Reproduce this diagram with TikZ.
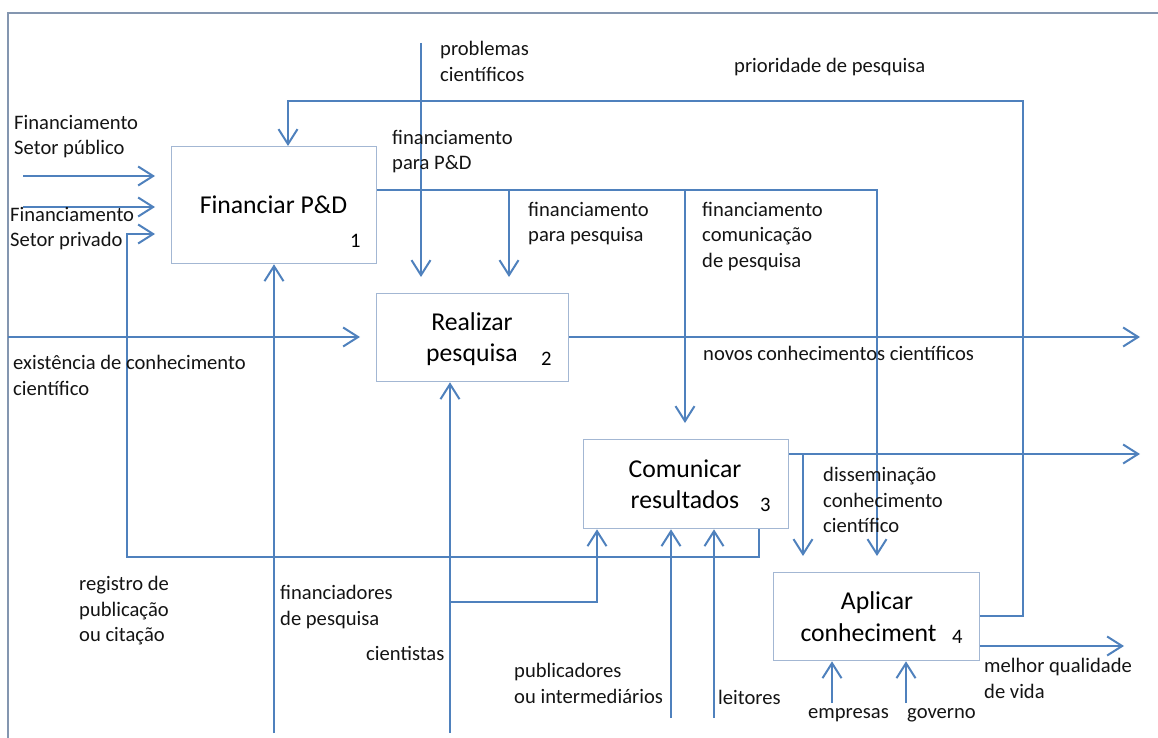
\documentclass[tikz,border=0pt]{standalone}
\usepackage{fontspec}
\setmainfont{Carlito}
\usetikzlibrary{arrows.meta}
\definecolor{flow}{HTML}{4F81BD}
\definecolor{boxline}{HTML}{A3B7D3}
\definecolor{frameline}{HTML}{8496B0}
\begin{document}
\begin{tikzpicture}[x=1pt,y=-1pt,
  flowline/.style={draw=flow, line width=2pt, -{Straight Barb[length=15pt,width=19pt]}},
  gap/.style={shorten >=16pt},
  stage/.style={draw=boxline, line width=1.3pt, fill=white, inner sep=0pt, anchor=north west},
  lbl/.style={font=\fontsize{20.6}{25.5}\selectfont, align=left, anchor=north west,
    inner sep=0pt, text=black!92, execute at begin node={\rule{0pt}{16pt}}},
  big/.style={font=\fontsize{25.7}{31}\selectfont, inner sep=0pt, anchor=base, text=black},
  num/.style={font=\fontsize{20.6}{24}\selectfont, inner sep=0pt, anchor=base west, text=black}]
\useasboundingbox (0,0) rectangle (1158,738);

% outer frame
\draw[frameline, line width=1.2pt] (8,738) -- (8,13) -- (1158,13);

% activity boxes
\node[stage, minimum width=205pt, minimum height=117pt] (b1) at (171,146) {};
\node[stage, minimum width=192pt, minimum height=88pt] (b2) at (376,293) {};
\node[stage, minimum width=205pt, minimum height=89pt] (b3) at (583,439) {};
\node[stage, minimum width=206pt, minimum height=88pt] (b4) at (773,572) {};

% box titles and numbers
\node[big] (t1) at (273.5,213) {Financiar P\&D};
\node[num] (n1) at (350,247) {1};
\node[big] (t2a) at (472,330) {Realizar};
\node[big] (t2b) at (472,361) {pesquisa};
\node[num] (n2) at (541,365) {2};
\node[big] (t3a) at (685,477) {Comunicar};
\node[big] (t3b) at (685,508) {resultados};
\node[num] (n3) at (760,511) {3};
\node[big] (t4a) at (877,609) {Aplicar};
\node[big] (t4b) at (868.5,641) {conheciment};
\node[num] (n4) at (952,643) {4};

% free ends of the connectors
\coordinate (pubsrc) at (23,176);
\coordinate (privsrc) at (23,207);
\coordinate (probsrc) at (421,43);
\coordinate (exsrc) at (8,337);
\coordinate (novosend) at (1140,337);
\coordinate (dissend) at (1140,454);
\coordinate (finsrc) at (274,733);
\coordinate (cientsrc) at (450,733);
\coordinate (pubisrc) at (671,718);
\coordinate (leitsrc) at (714,718);
\coordinate (empsrc) at (832,703);
\coordinate (govsrc) at (906,703);
\coordinate (vidaend) at (1124,646);
\coordinate (jfin) at (509,190);
\coordinate (jcom) at (685,190);
\coordinate (jdis) at (803,454);
\coordinate (jcie) at (450,602);

% inputs of box 1
\draw[flowline, gap] (pubsrc) -- (pubsrc -| b1.west);
\draw[flowline, gap] (privsrc) -- (privsrc -| b1.west);
\draw[flowline, gap] (b3.south -| 759,0) |- (127,557) |- (b1.west |- 0,234);
\draw[flowline] (b4.east |- 0,616) -| (1023,101) -| (b1.north -| 288,0);
\draw[flowline] (finsrc) -- (finsrc |- b1.south);

% funding flows
\draw[flowline, gap] (b1.east |- 0,190) -| (b4.north -| 877,0);
\draw[flowline, gap] (jfin) -- (jfin |- b2.north);
\draw[flowline, gap] (jcom) -- (jcom |- b3.north);

% research
\draw[flowline, gap] (probsrc) -- (probsrc |- b2.north);
\draw[flowline, gap] (exsrc) -- (exsrc -| b2.west);
\draw[flowline] (b2.east |- novosend) -- (novosend);
\draw[flowline] (cientsrc) -- (cientsrc |- b2.south);
\draw[flowline] (jcie) -| (b3.south -| 597,0);

% communication
\draw[flowline] (b3.east |- dissend) -- (dissend);
\draw[flowline] (jdis) -- (803,556);
\draw[flowline] (pubisrc) -- (pubisrc |- b3.south);
\draw[flowline] (leitsrc) -- (leitsrc |- b3.south);

% application
\draw[flowline] (empsrc) -- (empsrc |- b4.south);
\draw[flowline] (govsrc) -- (govsrc |- b4.south);
\draw[flowline] (b4.east |- vidaend) -- (vidaend);

% labels
\node[lbl] (l1) at (440,41) {problemas\\científicos};
\node[lbl] (l2) at (734,56) {prioridade de pesquisa};
\node[lbl] (l3) at (14,115) {Financiamento\\Setor público};
\node[lbl] (l4) at (392,130) {financiamento\\para P\&D};
\node[lbl] (l5) at (10,207) {Financiamento\\Setor privado};
\node[lbl] (l6) at (528,202) {financiamento\\para pesquisa};
\node[lbl] (l7) at (702,202) {financiamento\\comunicação\\de pesquisa};
\node[lbl] (l8) at (13,355) {existência de conhecimento\\científico};
\node[lbl] (l9) at (703,344) {novos conhecimentos científicos};
\node[lbl] (l10) at (823,467) {disseminação\\conhecimento\\científico};
\node[lbl] (l11) at (79,576) {registro de\\publicação\\ou citação};
\node[lbl] (l12) at (280,585) {financiadores\\de pesquisa};
\node[lbl] (l13) at (366,644) {cientistas};
\node[lbl] (l14) at (514,663) {publicadores\\ou intermediários};
\node[lbl] (l15) at (718,688) {leitores};
\node[lbl] (l16) at (808,702) {empresas};
\node[lbl] (l17) at (907,702) {governo};
\node[lbl] (l18) at (984,658) {melhor qualidade\\de vida};
\end{tikzpicture}
\end{document}
